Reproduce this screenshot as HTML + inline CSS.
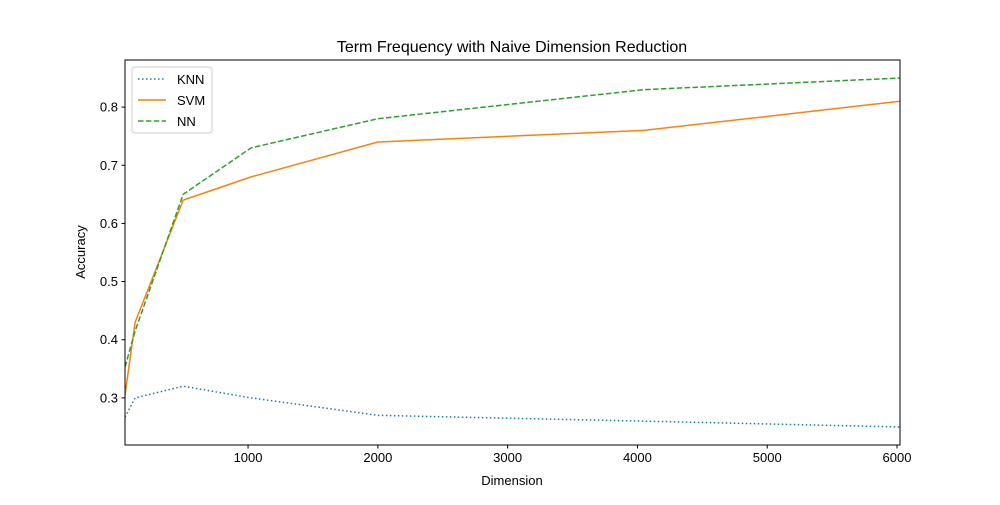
<!DOCTYPE html><html><head><meta charset="utf-8"><style>body{margin:0;background:#fff}svg{font-family:"Liberation Sans",sans-serif}</style></head><body>
<svg id="c" width="1000" height="500"></svg>
<script>
const xs=[52,130,500,1024,2000,4050,6023];
const knn=[0.267,0.30,0.32,0.30,0.27,0.26,0.25];
const svm=[0.305,0.43,0.64,0.68,0.74,0.76,0.81];
const nn=[0.353,0.415,0.65,0.73,0.78,0.83,0.85];
const xticks=[1000,2000,3000,4000,5000,6000];
const yticks=[0.3,0.4,0.5,0.6,0.7,0.8];
const L=125,R=900,T=60,B=445,x0=52,x1=6023,y0=0.219,y1=0.881;
const X=v=>L+(v-x0)/(x1-x0)*(R-L),Y=v=>B-(v-y0)/(y1-y0)*(B-T);
const s=document.getElementById('c');const NS='http://www.w3.org/2000/svg';
function el(t,a,p){const e=document.createElementNS(NS,t);for(const k in a)e.setAttribute(k,a[k]);(p||s).appendChild(e);return e;}
function line(d,c,dash,name){const e=el('polyline',{points:xs.map((v,i)=>X(v)+','+Y(d[i])).join(' '),fill:'none',stroke:c,'stroke-width':1.5,'stroke-dasharray':dash});

}
const cp=el('clipPath',{id:'cp'});el('rect',{x:L,y:T,width:R-L,height:B-T},cp);
const g=el('g',{'clip-path':'url(#cp)'});
function pl(d,c,dash,name){const e=el('polyline',{points:xs.map((v,i)=>X(v)+','+Y(d[i])).join(' '),fill:'none',stroke:c,'stroke-width':1.5,'stroke-dasharray':dash},g);

}
pl(knn,'#1f77b4','1.5,2.5','knn-line');pl(svm,'#ff7f0e','','svm-line');pl(nn,'#2ca02c','5.5,2.4','nn-line');
el('rect',{x:L,y:T,width:R-L,height:B-T,fill:'none',stroke:'#000','stroke-width':1});
xticks.forEach(v=>{const x=X(v);el('line',{x1:x,x2:x,y1:B,y2:B+3.5,stroke:'#000'});const t=el('text',{x:x,y:B+17,'text-anchor':'middle','font-size':13});t.textContent=v;

});
yticks.forEach(v=>{const y=Y(v);el('line',{x1:L,x2:L-3.5,y1:y,y2:y,stroke:'#000'});const t=el('text',{x:L-7,y:y+4.5,'text-anchor':'end','font-size':13});t.textContent=v.toFixed(1);

});
const ti=el('text',{x:512,y:52,'text-anchor':'middle','font-size':16});ti.textContent='Term Frequency with Naive Dimension Reduction';

const xl=el('text',{x:512,y:485,'text-anchor':'middle','font-size':13});xl.textContent='Dimension';

const yl=el('text',{x:85,y:252,'text-anchor':'middle','font-size':13,transform:'rotate(-90 85 252)'});yl.textContent='Accuracy';

const lg=el('g',{});
el('rect',{x:132,y:67,width:80,height:66,rx:3,fill:'#fff',stroke:'#ccc','fill-opacity':0.8},lg);
[['KNN','#1f77b4','1.5,2.5'],['SVM','#ff7f0e',''],['NN','#2ca02c','5.5,2.4']].forEach((e,i)=>{const y=79+i*21;
el('line',{x1:138,x2:166,y1:y,y2:y,stroke:e[1],'stroke-width':1.5,'stroke-dasharray':e[2]},lg);
const t=el('text',{x:177,y:y+5,'font-size':13},lg);t.textContent=e[0];
});
</script></body></html>
